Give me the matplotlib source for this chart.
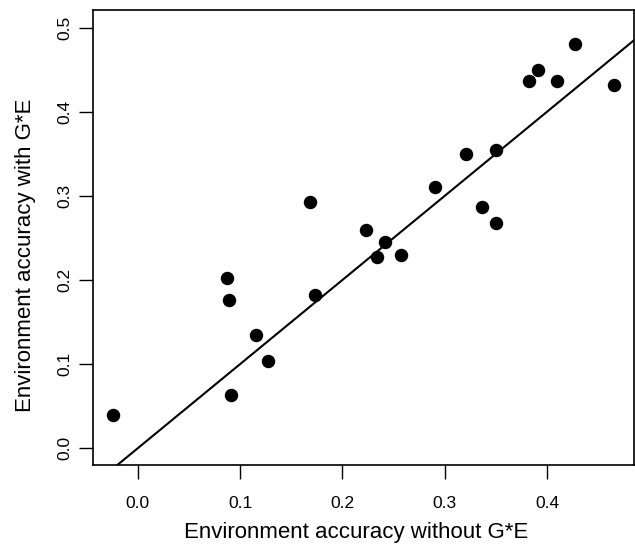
import matplotlib
import matplotlib.pyplot as plt

matplotlib.use("Agg")

plt.rcParams["font.family"] = ["Liberation Sans", "DejaVu Sans"]

# accuracy per environment
acc_without = [-0.024, 0.087, 0.089, 0.116, 0.127, 0.091, 0.173, 0.168,
               0.223, 0.242, 0.234, 0.257, 0.291, 0.321, 0.350, 0.336,
               0.350, 0.382, 0.391, 0.410, 0.427, 0.465]
acc_with = [0.039, 0.202, 0.176, 0.135, 0.104, 0.063, 0.182, 0.293,
            0.260, 0.245, 0.227, 0.230, 0.311, 0.350, 0.354, 0.287,
            0.268, 0.436, 0.450, 0.436, 0.480, 0.432]
x_ticks = [0.0, 0.1, 0.2, 0.3, 0.4]
y_ticks = [0.0, 0.1, 0.2, 0.3, 0.4, 0.5]

fig = plt.figure(figsize=(6.35, 5.45), dpi=100)
ax = fig.add_axes([0.1465, 0.1468, 0.8519, 0.8349])

ax.scatter(acc_without, acc_with, s=75, color="black", zorder=3)
# identity line y = x
ax.axline((0, 0), slope=1, color="black", lw=1.5)

ax.set_xlim(-0.0437, 0.485)
ax.set_ylim(-0.0199, 0.521)
ax.set_xticks(x_ticks)
ax.set_yticks(y_ticks)
ax.set_xticklabels([f"{v:.1f}" for v in x_ticks])
ax.set_yticklabels([f"{v:.1f}" for v in y_ticks], rotation=90, va="center")

ax.tick_params(length=10, width=1.0, labelsize=12.5)
ax.tick_params(axis="x", pad=12)
ax.tick_params(axis="y", pad=5)
for s in ax.spines.values():
    s.set_linewidth(1.2)

ax.set_xlabel("Environment accuracy without G*E", fontsize=16, va="center")
ax.set_ylabel("Environment accuracy with G*E", fontsize=16, va="center")
ax.xaxis.set_label_coords(0.487, -0.149)
ax.yaxis.set_label_coords(-0.1257, 0.4615)

fig.savefig("out.png", dpi=100)
